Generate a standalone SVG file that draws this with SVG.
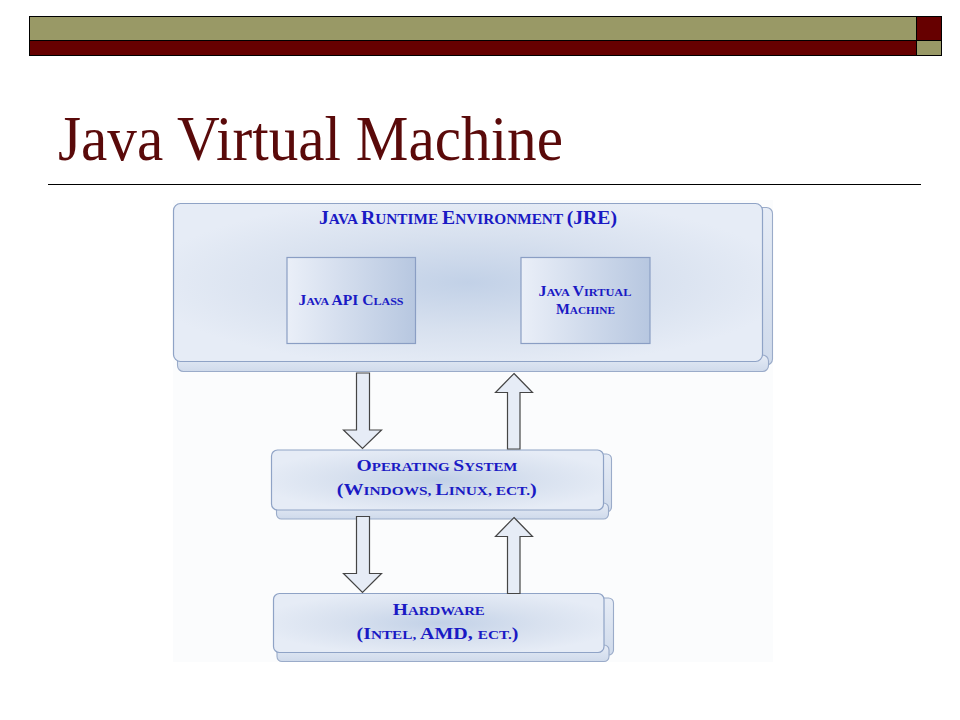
<svg xmlns="http://www.w3.org/2000/svg" width="960" height="720" viewBox="0 0 960 720">
  <defs>
    <radialGradient id="gMain" cx="50%" cy="50%" r="55%">
      <stop offset="0" stop-color="#c2d1e7"/>
      <stop offset="0.55" stop-color="#d8e1ef"/>
      <stop offset="1" stop-color="#e6ecf6"/>
    </radialGradient>
    <linearGradient id="gInner" x1="0" y1="0" x2="1" y2="0">
      <stop offset="0" stop-color="#eaeff8"/>
      <stop offset="1" stop-color="#b7c7e0"/>
    </linearGradient>
    <linearGradient id="gStrip" x1="0" y1="0" x2="0" y2="1">
      <stop offset="0" stop-color="#e6ecf6"/>
      <stop offset="1" stop-color="#cfdaeb"/>
    </linearGradient>
  </defs>
  <style>
    .main { fill: url(#gMain); stroke: #8fa3c6; stroke-width: 1.2; }
    .strip { fill: url(#gStrip); stroke: #9aabc9; stroke-width: 1.1; }
    .inner { fill: url(#gInner); stroke: #8a9ec4; stroke-width: 1.2; }
    .arrow { fill: #e6ecf6; stroke: #454545; stroke-width: 1.2; stroke-linejoin: miter; }
    .lbl { font-family: "Liberation Serif", "Times New Roman", serif; font-weight: bold; fill: #1a1ac4; text-anchor: middle; }
  </style>

  <rect width="960" height="720" fill="#ffffff"/>

  <!-- header bars -->
  <g id="header">
    <rect x="29.5" y="16.5" width="887" height="24" fill="#999966" stroke="#000" stroke-width="1"/>
    <rect x="29.5" y="40.5" width="887" height="15" fill="#660000" stroke="#000" stroke-width="1"/>
    <rect x="916.5" y="16.5" width="25" height="24" fill="#660000" stroke="#000" stroke-width="1"/>
    <rect x="916.5" y="40.5" width="25" height="15" fill="#999966" stroke="#000" stroke-width="1"/>
  </g>

  <g id="title">
    <text x="58" y="160" font-family="'Liberation Serif', 'Times New Roman', serif" font-size="63" fill="#5a0a0a" textLength="505" lengthAdjust="spacingAndGlyphs">Java Virtual Machine</text>
    <line x1="48" y1="184.5" x2="921" y2="184.5" stroke="#000" stroke-width="1"/>
  </g>

  <!-- pasted image background -->
  <rect x="173" y="200" width="600" height="462" fill="#fbfcfd"/>

  <g id="jre">
    <rect class="strip" x="755" y="207.5" width="17.5" height="157.5" rx="6"/>
    <rect class="strip" x="177.5" y="355" width="591" height="16.5" rx="6"/>
    <rect class="main" x="173.5" y="203.5" width="589" height="158" rx="7"/>
    <text class="lbl" x="468" y="224.3" textLength="298" lengthAdjust="spacingAndGlyphs"><tspan font-size="18">J</tspan><tspan font-size="14">AVA </tspan><tspan font-size="18">R</tspan><tspan font-size="14">UNTIME </tspan><tspan font-size="18">E</tspan><tspan font-size="14">NVIRONMENT </tspan><tspan font-size="18">(JRE)</tspan></text>
  </g>

  <g id="api-class">
    <rect class="inner" x="287" y="257.5" width="128.5" height="86"/>
    <text class="lbl" x="351" y="305" textLength="105" lengthAdjust="spacingAndGlyphs"><tspan font-size="14.5">J</tspan><tspan font-size="11.2">AVA </tspan><tspan font-size="14.5">API C</tspan><tspan font-size="11.2">LASS</tspan></text>
  </g>

  <g id="jvm">
    <rect class="inner" x="521" y="257.5" width="129" height="86"/>
    <text class="lbl" x="585" y="296" textLength="93" lengthAdjust="spacingAndGlyphs"><tspan font-size="14.5">J</tspan><tspan font-size="11.2">AVA </tspan><tspan font-size="14.5">V</tspan><tspan font-size="11.2">IRTUAL</tspan></text>
    <text class="lbl" x="585.5" y="314" textLength="59" lengthAdjust="spacingAndGlyphs"><tspan font-size="14.5">M</tspan><tspan font-size="11.2">ACHINE</tspan></text>
  </g>

  <g id="os">
    <rect class="strip" x="595" y="454" width="16.5" height="58" rx="5"/>
    <rect class="strip" x="276.5" y="503" width="332" height="16" rx="5"/>
    <rect class="main" x="271.5" y="450" width="332" height="60" rx="6"/>
    <text class="lbl" x="437" y="471" textLength="161" lengthAdjust="spacingAndGlyphs"><tspan font-size="17">O</tspan><tspan font-size="13">PERATING </tspan><tspan font-size="17">S</tspan><tspan font-size="13">YSTEM</tspan></text>
    <text class="lbl" x="436.7" y="495" textLength="200" lengthAdjust="spacingAndGlyphs"><tspan font-size="17">(W</tspan><tspan font-size="13">INDOWS, </tspan><tspan font-size="17">L</tspan><tspan font-size="13">INUX, ECT.</tspan><tspan font-size="17">)</tspan></text>
  </g>

  <g id="hardware">
    <rect class="strip" x="596" y="598" width="17.5" height="57" rx="5"/>
    <rect class="strip" x="277" y="645" width="332" height="16.5" rx="5"/>
    <rect class="main" x="273.5" y="593.5" width="330.5" height="59" rx="6"/>
    <text class="lbl" x="438.8" y="615" textLength="92" lengthAdjust="spacingAndGlyphs"><tspan font-size="17">H</tspan><tspan font-size="13">ARDWARE</tspan></text>
    <text class="lbl" x="437.5" y="639" textLength="162" lengthAdjust="spacingAndGlyphs"><tspan font-size="17">(I</tspan><tspan font-size="13">NTEL, </tspan><tspan font-size="17">AMD, </tspan><tspan font-size="13">ECT.</tspan><tspan font-size="17">)</tspan></text>
  </g>

  <g id="connectors">
    <polygon class="arrow" points="356.5,373 369.5,373 369.5,430 381.5,430 362.5,448.5 343.5,430 356.5,430"/>
    <polygon class="arrow" points="514,373.5 532.5,392.5 520,392.5 520,449 507.5,449 507.5,392.5 495.5,392.5"/>
    <polygon class="arrow" points="356.5,516.5 369.5,516.5 369.5,573.5 381.5,573.5 362.5,592.5 343.5,573.5 356.5,573.5"/>
    <polygon class="arrow" points="514,517.5 532.5,536.5 520,536.5 520,593.5 507.5,593.5 507.5,536.5 495.5,536.5"/>
  </g>
</svg>
